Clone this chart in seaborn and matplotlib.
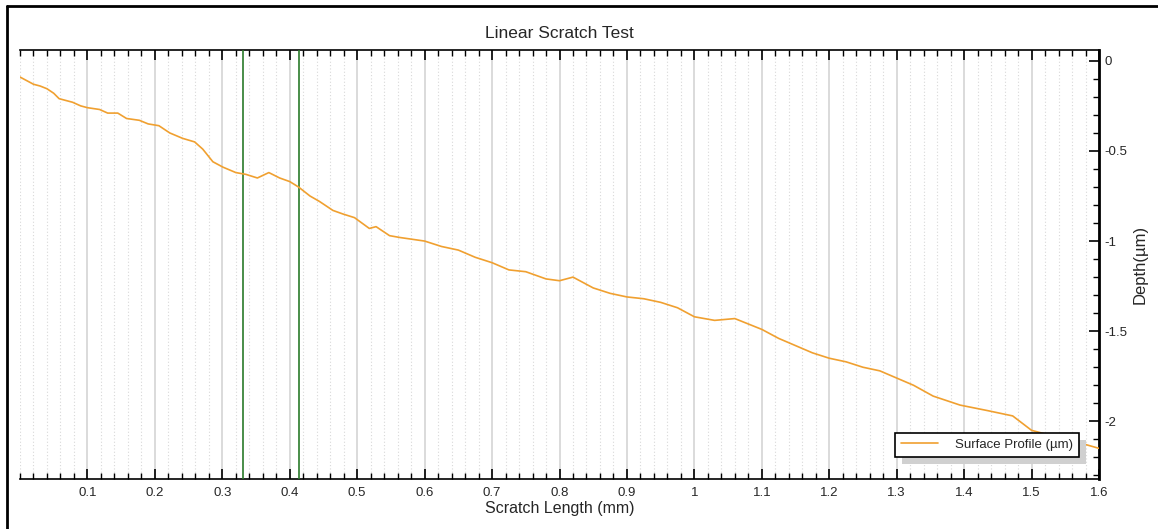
import numpy as np
import pandas as pd
import seaborn as sns
import matplotlib.pyplot as plt
from matplotlib.lines import Line2D
from matplotlib.patches import Rectangle
from matplotlib.ticker import MultipleLocator, FuncFormatter

# surface profile
scratch_mm = [0.000, 0.010, 0.020, 0.030, 0.040, 0.050, 0.058, 0.068, 0.078, 0.090,
              0.100, 0.118, 0.130, 0.145, 0.158, 0.177, 0.190, 0.206, 0.222, 0.241,
              0.259, 0.271, 0.286, 0.301, 0.320, 0.335, 0.352, 0.369, 0.385, 0.400,
              0.413, 0.430, 0.444, 0.464, 0.479, 0.496, 0.518, 0.528, 0.548, 0.563,
              0.600, 0.625, 0.650, 0.675, 0.700, 0.725, 0.750, 0.780, 0.800, 0.820,
              0.850, 0.875, 0.900, 0.925, 0.950, 0.975, 1.000, 1.030, 1.060, 1.080,
              1.100, 1.125, 1.150, 1.175, 1.200, 1.225, 1.250, 1.275, 1.300, 1.325,
              1.354, 1.394, 1.434, 1.472, 1.500, 1.540, 1.572, 1.600]
depth_um = [-0.09, -0.11, -0.13, -0.14, -0.155, -0.18, -0.21, -0.22, -0.23, -0.25,
            -0.26, -0.27, -0.29, -0.29, -0.32, -0.33, -0.35, -0.36, -0.40, -0.43,
            -0.45, -0.49, -0.56, -0.59, -0.62, -0.63, -0.65, -0.62, -0.65, -0.67,
            -0.70, -0.75, -0.78, -0.83, -0.85, -0.87, -0.93, -0.92, -0.97, -0.98,
            -1.00, -1.03, -1.05, -1.09, -1.12, -1.16, -1.17, -1.21, -1.22, -1.20,
            -1.26, -1.29, -1.31, -1.32, -1.34, -1.37, -1.42, -1.44, -1.43, -1.46,
            -1.49, -1.54, -1.58, -1.62, -1.65, -1.67, -1.70, -1.72, -1.76, -1.80,
            -1.86, -1.91, -1.94, -1.97, -2.05, -2.09, -2.12, -2.15]

marker_mm = [0.33, 0.413]
x_ticks = [0.1, 0.2, 0.3, 0.4, 0.5, 0.6, 0.7, 0.8, 0.9, 1.0, 1.1, 1.2, 1.3, 1.4, 1.5, 1.6]
y_ticks = [0, -0.5, -1, -1.5, -2]

LINE = "#f0a030"
GREEN = "#2a7a2a"

sns.set_style("white")
plt.rcParams["font.family"] = ["Liberation Sans", "DejaVu Sans"]

df = pd.DataFrame({"x": scratch_mm, "y": depth_um})

fig = plt.figure(figsize=(11.58, 5.29), dpi=100)
ax = fig.add_axes([20 / 1158, 1 - 479 / 529, 1079 / 1158, 429 / 529])

# grid: solid at 0.1, dotted at 0.02
ax.set_xticks(x_ticks)
ax.xaxis.set_minor_locator(MultipleLocator(0.02))
ax.yaxis.set_minor_locator(MultipleLocator(0.1))
ax.grid(axis="x", which="major", color="#d4d4d4", lw=1.2, ls="-")
ax.grid(axis="x", which="minor", color="#d8d8d8", lw=0.8, ls=(0, (1, 2)))
ax.set_axisbelow(True)

for m in marker_mm:
    ax.axvline(m, color=GREEN, lw=1.2, zorder=3)

sns.lineplot(data=df, x="x", y="y", ax=ax, color=LINE, lw=1.2,
             label="Surface Profile (\u00b5m)", zorder=4)

ax.set_xlim(0, 1.6)
ax.set_ylim(-2.32, 0.06)
ax.set_yticks(y_ticks)
fmt = FuncFormatter(lambda v, p: f"{v:g}")
ax.xaxis.set_major_formatter(fmt)
ax.yaxis.set_major_formatter(fmt)

ax.spines["left"].set_visible(False)
for s in ["top", "bottom"]:
    ax.spines[s].set_color("black")
    ax.spines[s].set_linewidth(1.2)
ax.spines["right"].set_color("black")
ax.spines["right"].set_linewidth(2)

ax.tick_params(axis="x", which="both", direction="in", top=True, bottom=True,
               labeltop=False, labelbottom=True, labelsize=9.5, pad=6, color="black")
ax.tick_params(axis="x", which="major", length=7, width=1.2)
ax.tick_params(axis="x", which="minor", length=4, width=1)
ax.tick_params(axis="y", which="both", direction="in", left=False, right=True,
               labelleft=False, labelright=True, labelsize=9.5, pad=4, color="black")
ax.tick_params(axis="y", which="major", length=7, width=1.2)
ax.tick_params(axis="y", which="minor", length=4, width=1)

ax.set_title("Linear Scratch Test", fontsize=12.5, pad=9)
ax.set_xlabel("Scratch Length (mm)", fontsize=11.5, labelpad=1)
ax.set_ylabel("Depth(\u00b5m)", fontsize=12, labelpad=4)
ax.yaxis.set_label_position("right")

leg = ax.legend(loc="lower right", bbox_to_anchor=(1079 / 1158, 1 - 457 / 529),
                bbox_transform=fig.transFigure, frameon=True, fancybox=False,
                fontsize=9.5, handlelength=2.8, borderpad=0.45, handletextpad=1.3,
                borderaxespad=0)
leg.get_frame().set_edgecolor("black")
leg.get_frame().set_linewidth(1.2)
leg.get_frame().set_alpha(1)
leg.set_zorder(10)

# drop shadow behind the legend box
fig.canvas.draw()
bb = leg.get_window_extent().transformed(fig.transFigure.inverted())
shadow = Rectangle((bb.x0 + 7 / 1158, bb.y0 - 7 / 529), bb.width, bb.height,
                   transform=fig.transFigure, facecolor="#d0d0d0", edgecolor="none",
                   zorder=9, clip_on=False)
ax.add_patch(shadow)

# outer frame (left and top edges)
fig.add_artist(Line2D([7 / 1158, 7 / 1158], [0, 1 - 6 / 529], transform=fig.transFigure,
                      color="black", lw=2))
fig.add_artist(Line2D([7 / 1158, 1], [1 - 6 / 529, 1 - 6 / 529], transform=fig.transFigure,
                      color="black", lw=2))

fig.savefig("out.png", dpi=100)
